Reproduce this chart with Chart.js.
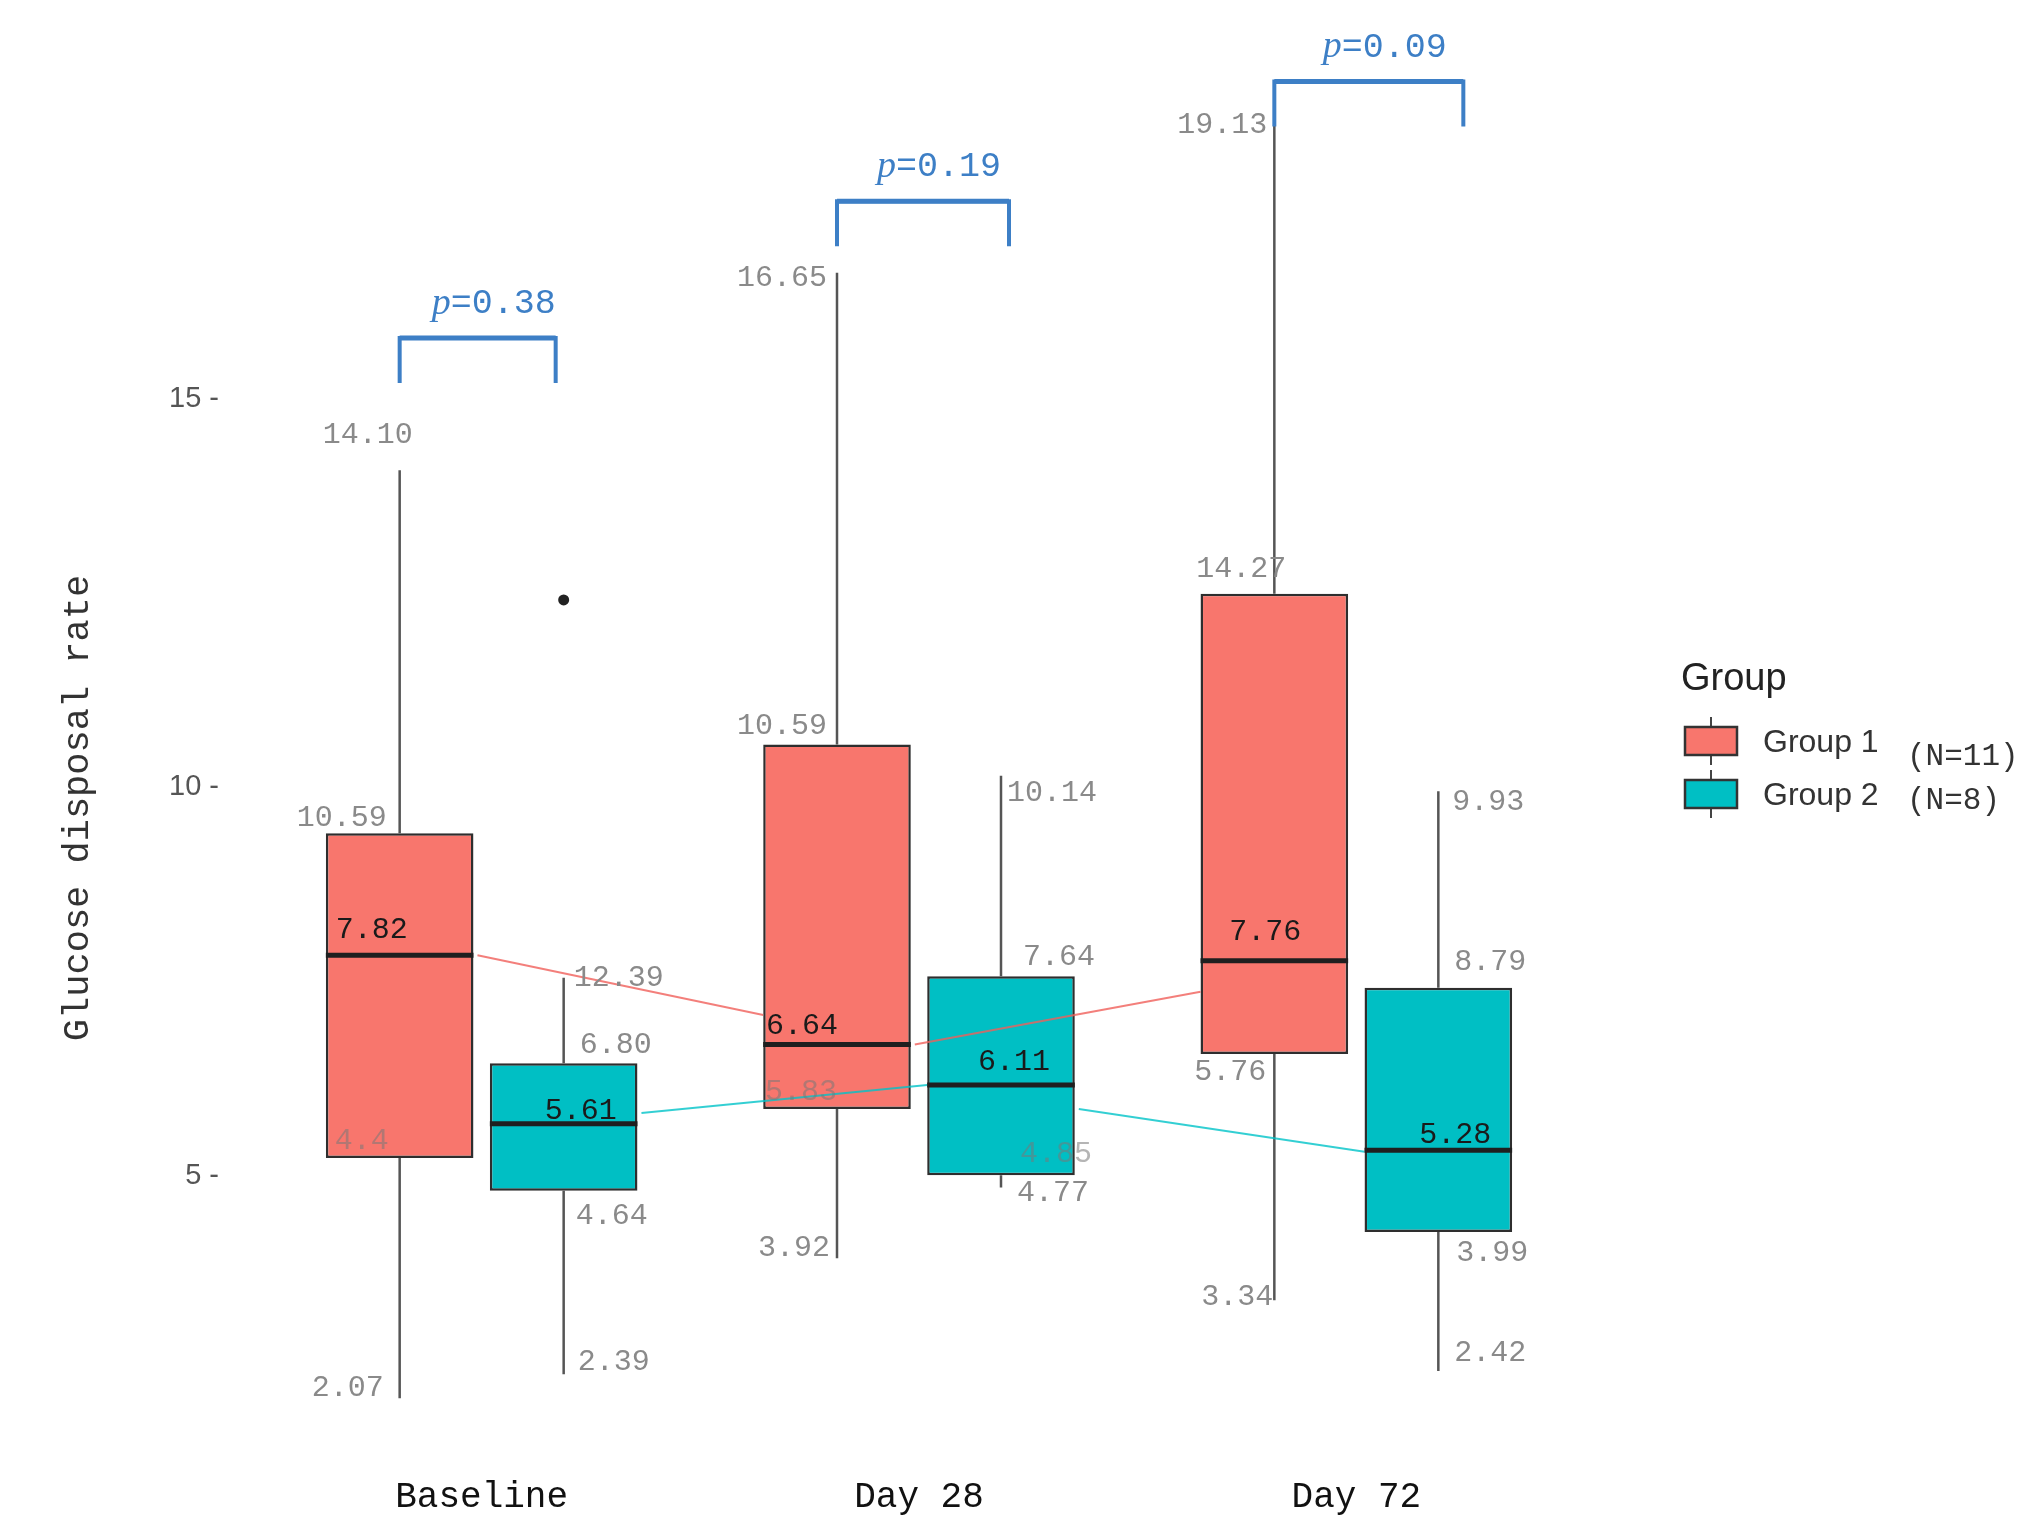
<!DOCTYPE html>
<html>
<head>
<meta charset="utf-8">
<style>
  html, body { margin: 0; padding: 0; background: #fff; }
</style>
<script src="https://cdn.jsdelivr.net/npm/chart.js@4.4.1/dist/chart.umd.min.js"></script>
</head>
<body>
<canvas id="glucoseChart" width="2038" height="1521"></canvas>
<script>
const categories = ['Baseline', 'Day 28', 'Day 72'];
const groupNames = ['Group 1', 'Group 2'];
const groupSizes = ['(N=11)', '(N=8)'];

// box statistics as drawn in the figure
const g1Min = [2.14, 3.94, 3.40];
const g1Q1 = [5.23, 5.86, 6.57];
const g1Median = [7.84, 6.69, 7.77];
const g1Q3 = [9.41, 10.55, 12.49];
const g1Max = [14.08, 16.62, 18.67];

const g2Min = [2.45, 4.85, 2.49];
const g2Q1 = [4.81, 5.01, 4.28];
const g2Median = [5.67, 6.17, 5.33];
const g2Q3 = [6.45, 7.57, 7.42];
const g2Max = [7.55, 10.15, 9.95];
const g2Outliers = [[12.41], [], []];

// numbers printed next to each box: whisker top, Q3, median, Q1, whisker bottom
const g1Labels = [
    ['14.10', '10.59', '7.82', '4.4', '2.07'],
    ['16.65', '10.59', '6.64', '5.83', '3.92'],
    ['19.13', '14.27', '7.76', '5.76', '3.34']
];
const g2Labels = [
    ['12.39', '6.80', '5.61', '4.64', '2.39'],
    ['10.14', '7.64', '6.11', '4.85', '4.77'],
    ['9.93', '8.79', '5.28', '3.99', '2.42']
];

// p values and the height of their brackets
const pValues = ['0.38', '0.19', '0.09'];
const bracketLevels = [15.78, 17.54, 19.08];

// thin trend lines joining one time point to the next (start, end)
const g1Trend = [[7.84, 7.07], [6.69, 7.37]];
const g2Trend = [[5.81, 6.17], [5.86, 5.31]];

const yTicks = [5, 10, 15];

const colors = ['#F8766D', '#00BFC4'];
const mono = '"Liberation Mono", "DejaVu Sans Mono", monospace';
const sans = '"Liberation Sans", Arial, sans-serif';

// pixel nudges for the printed numbers, relative to whisker x / value y
const nudges = [
    [
        [[-32, -35], [-58, -15], [-28, -25], [-38, -17], [-52, -10]],
        [[-55, 5], [-55, -18], [-35, -19], [-36, -17], [-43, -10]],
        [[-52, 12], [-33, -25], [-9, -29], [-44, 18], [-37, -3]]
    ],
    [
        [[55, 0], [52, -18], [17, -13], [48, 25], [50, -12]],
        [[51, 17], [58, -19], [13, -23], [55, -21], [52, 5]],
        [[50, 11], [52, -26], [17, -15], [54, 21], [52, -18]]
    ]
];
const faintLabels = ['0-0-3', '0-1-3', '1-1-3'];
// bracket ends sit a little off the whiskers in the figure
const bracketShift = [[0, -8], [0, 8], [0, 25]];

const groups = [
    { min: g1Min, q1: g1Q1, med: g1Median, q3: g1Q3, max: g1Max, labels: g1Labels, trend: g1Trend, out: [[], [], []] },
    { min: g2Min, q1: g2Q1, med: g2Median, q3: g2Q3, max: g2Max, labels: g2Labels, trend: g2Trend, out: g2Outliers }
];

const boxPlotExtras = {
    id: 'boxPlotExtras',
    beforeDatasetsDraw(chart) {
        // whiskers sit underneath the boxes
        const ctx = chart.ctx;
        const y = chart.scales.y;
        ctx.save();
        ctx.strokeStyle = '#555';
        ctx.lineWidth = 2.5;
        groups.forEach((g, d) => {
            chart.getDatasetMeta(d).data.forEach((bar, i) => {
                ctx.beginPath();
                ctx.moveTo(bar.x, y.getPixelForValue(g.max[i]));
                ctx.lineTo(bar.x, y.getPixelForValue(g.q3[i]));
                ctx.moveTo(bar.x, y.getPixelForValue(g.q1[i]));
                ctx.lineTo(bar.x, y.getPixelForValue(g.min[i]));
                ctx.stroke();
            });
        });
        ctx.restore();
    },
    afterDatasetsDraw(chart) {
        const ctx = chart.ctx;
        const y = chart.scales.y;
        const metas = [chart.getDatasetMeta(0).data, chart.getDatasetMeta(1).data];
        ctx.save();

        // trend lines
        const trendColors = ['rgba(240,95,90,0.8)', 'rgba(0,195,200,0.8)'];
        groups.forEach((g, d) => {
            ctx.strokeStyle = trendColors[d];
            ctx.lineWidth = 2;
            g.trend.forEach((seg, i) => {
                const a = metas[d][i], b = metas[d][i + 1];
                ctx.beginPath();
                ctx.moveTo(a.x + a.width / 2 + 4, y.getPixelForValue(seg[0]));
                ctx.lineTo(b.x - b.width / 2, y.getPixelForValue(seg[1]));
                ctx.stroke();
            });
        });

        // medians and outliers
        groups.forEach((g, d) => {
            metas[d].forEach((bar, i) => {
                const py = y.getPixelForValue(g.med[i]);
                ctx.strokeStyle = '#1f1f1f';
                ctx.lineWidth = 5;
                ctx.beginPath();
                ctx.moveTo(bar.x - bar.width / 2, py);
                ctx.lineTo(bar.x + bar.width / 2, py);
                ctx.stroke();
                g.out[i].forEach(v => {
                    ctx.fillStyle = '#222';
                    ctx.beginPath();
                    ctx.arc(bar.x, y.getPixelForValue(v), 5.5, 0, Math.PI * 2);
                    ctx.fill();
                });
            });
        });

        // printed numbers
        ctx.font = '30px ' + mono;
        ctx.textAlign = 'center';
        ctx.textBaseline = 'middle';
        groups.forEach((g, d) => {
            metas[d].forEach((bar, i) => {
                const anchors = [g.max[i], g.q3[i], g.med[i], g.q1[i], g.min[i]];
                g.labels[i].forEach((txt, k) => {
                    const n = nudges[d][i][k];
                    if (k === 2) ctx.fillStyle = '#1a1a1a';
                    else if (faintLabels.includes(d + '-' + i + '-' + k)) ctx.fillStyle = 'rgba(120,120,120,0.55)';
                    else ctx.fillStyle = '#8a8a8a';
                    ctx.fillText(txt, bar.x + n[0], y.getPixelForValue(anchors[k]) + n[1]);
                });
            });
        });

        // p-value brackets
        const blue = '#3d7fc6';
        pValues.forEach((p, i) => {
            const x1 = metas[0][i].x + bracketShift[i][0];
            const x2 = metas[1][i].x + bracketShift[i][1];
            const top = y.getPixelForValue(bracketLevels[i]);
            ctx.strokeStyle = blue;
            ctx.lineWidth = 4;
            ctx.lineCap = 'butt';
            ctx.beginPath();
            ctx.moveTo(x1, top + 45);
            ctx.lineTo(x1, top);
            ctx.lineTo(x2, top);
            ctx.lineTo(x2, top + 45);
            ctx.stroke();
            ctx.lineWidth = 5;
            ctx.beginPath();
            ctx.moveTo(x1, top);
            ctx.lineTo(x2, top);
            ctx.stroke();

            const pFont = 'italic 38px "Liberation Serif", serif';
            const rFont = '35px ' + mono;
            ctx.font = pFont;
            const wp = ctx.measureText('p').width;
            ctx.font = rFont;
            const wr = ctx.measureText('=' + p).width;
            let tx = (x1 + x2) / 2 + 16 - (wp + wr) / 2;
            const ty = top - 34;
            ctx.fillStyle = blue;
            ctx.textAlign = 'left';
            ctx.textBaseline = 'middle';
            ctx.font = pFont;
            ctx.fillText('p', tx, ty);
            ctx.font = rFont;
            ctx.fillText('=' + p, tx + wp, ty);
        });

        // y axis title
        ctx.save();
        ctx.translate(78, 808);
        ctx.rotate(-Math.PI / 2);
        ctx.font = '37px ' + mono;
        ctx.fillStyle = '#333';
        ctx.textAlign = 'center';
        ctx.textBaseline = 'middle';
        ctx.fillText('Glucose disposal rate', 0, 0);
        ctx.restore();

        // legend
        ctx.textAlign = 'left';
        ctx.textBaseline = 'middle';
        ctx.fillStyle = '#222';
        ctx.font = '38px ' + sans;
        ctx.fillText('Group', 1681, 680);
        groupNames.forEach((name, d) => {
            const cy = 741 + d * 53;
            ctx.strokeStyle = '#444';
            ctx.lineWidth = 2;
            ctx.beginPath();
            ctx.moveTo(1711, cy - 24);
            ctx.lineTo(1711, cy + 24);
            ctx.stroke();
            ctx.fillStyle = colors[d];
            ctx.fillRect(1685, cy - 14, 52, 28);
            ctx.strokeStyle = '#333';
            ctx.lineWidth = 2.5;
            ctx.strokeRect(1685, cy - 14, 52, 28);
            ctx.fillStyle = '#333';
            ctx.font = '32px ' + sans;
            ctx.fillText(name, 1763, cy + 2);
            ctx.font = '31px ' + mono;
            ctx.fillText(groupSizes[d], 1907, cy + (d === 0 ? 16 : 7));
        });

        ctx.restore();
    }
};

new Chart(document.getElementById('glucoseChart').getContext('2d'), {
    type: 'bar',
    data: {
        labels: categories,
        datasets: groups.map((g, d) => ({
            label: groupNames[d],
            data: g.q1.map((q, i) => [q, g.q3[i]]),
            backgroundColor: colors[d],
            borderColor: '#2e2e2e',
            borderWidth: 2.5,
            borderSkipped: false,
            categoryPercentage: 0.75,
            barPercentage: 0.9
        }))
    },
    options: {
        responsive: false,
        animation: false,
        devicePixelRatio: 1,
        layout: { padding: { top: 10, right: 463, bottom: 0, left: 0 } },
        plugins: {
            legend: { display: false },
            tooltip: { enabled: false }
        },
        scales: {
            x: {
                grid: { display: false, drawTicks: false },
                border: { display: false },
                ticks: {
                    color: '#111',
                    font: { family: mono, size: 36 },
                    padding: 28
                },
                afterFit: function (scale) {
                    scale.height = 73;
                    scale.paddingLeft = 0;
                    scale.paddingRight = 0;
                }
            },
            y: {
                min: 1.5,
                max: 20,
                grid: { display: false, drawTicks: false },
                border: { display: false },
                afterBuildTicks: function (scale) {
                    scale.ticks = yTicks.map(v => ({ value: v }));
                },
                ticks: {
                    color: '#555',
                    font: { family: sans, size: 29 },
                    padding: 44,
                    callback: function (value) { return value + ' -'; }
                },
                afterFit: function (scale) {
                    scale.width = 263;
                    scale.paddingTop = 0;
                    scale.paddingBottom = 0;
                }
            }
        }
    },
    plugins: [boxPlotExtras]
});
</script>
</body>
</html>
